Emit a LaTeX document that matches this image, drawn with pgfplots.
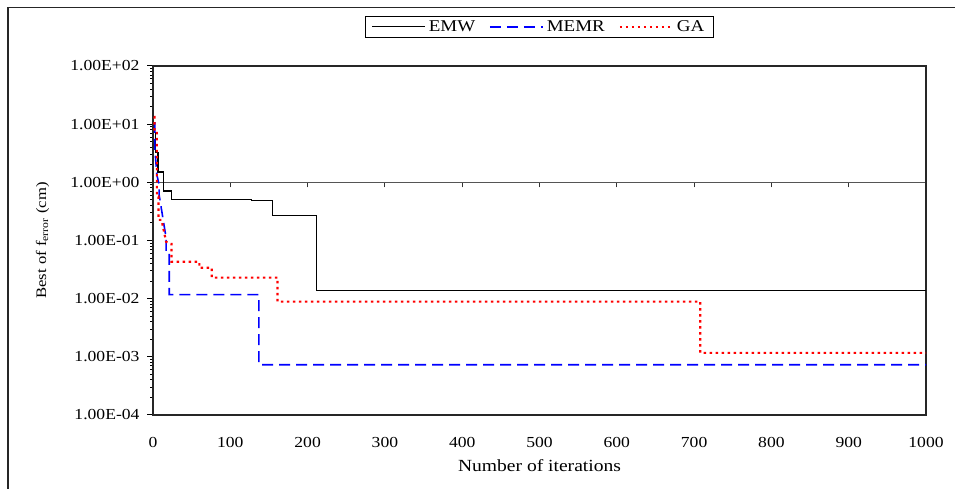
\documentclass[border=0pt]{standalone}
\usepackage{fontspec}
\setmainfont{Liberation Serif}[FakeStretch=1.15]
\usepackage{pgfplots}
\pgfplotsset{compat=1.18}
\definecolor{axgray}{RGB}{85,85,85}
\definecolor{emwblue}{RGB}{0,0,255}
\definecolor{gared}{RGB}{255,0,0}
\begin{document}
\begin{tikzpicture}[x=1bp,y=1bp]
\useasboundingbox (0,0) rectangle (955,489);
\draw[line width=1.3bp, black!85] (8,-5) -- (8,481.5) -- (960,481.5);
% overlay axis: horizontal axis line crossing at 1.00E+00 with its ticks
\begin{axis}[
  at={(153bp,74bp)}, anchor=south west,
  scale only axis, width=773bp, height=349bp,
  xmin=0, xmax=1000, ymin=-4, ymax=2,
  axis x line=middle, axis y line=none,
  x axis line style={-, draw=axgray, line width=1.6bp},
  xtick={100,200,300,400,500,600,700,800,900,1000},
  xticklabels={}, ytick=\empty,
  tick align=center, major tick length=5bp,
  xtick style={draw=black!80, line width=1.1bp, yshift=-2.5bp},
]
\end{axis}
\begin{axis}[
  at={(153bp,74bp)}, anchor=south west,
  scale only axis, width=773bp, height=349bp,
  xmin=0, xmax=1000, ymode=log, ymin=1e-4, ymax=1e2,
  xtick={0,100,200,300,400,500,600,700,800,900,1000},
  xticklabels={0,100,200,300,400,500,600,700,800,900,1000},
  xtick style={draw=none},
  ytick={1e-4,1e-3,1e-2,1e-1,1,10,100},
  yticklabels={1.00E-04,1.00E-03,1.00E-02,1.00E-01,1.00E+00,1.00E+01,1.00E+02},
  minor ytick={}, ytick pos=left,
  tick align=outside, major tick length=6bp,
  ytick style={black, line width=1bp},
  axis line style={black!85, line width=1.1bp},
  tick label style={font=\fontsize{15.3bp}{18bp}\selectfont},
  x tick label style={yshift=-13bp},
  y tick label style={xshift=-4bp},
  xlabel={Number of iterations},
  xlabel style={at={(axis description cs:0.5,-0.1633)}, anchor=base, font=\fontsize{17bp}{20bp}\selectfont},
  ylabel={Best of f\textsubscript{error} (cm)},
  ylabel style={at={(axis description cs:-0.1384,0.5)}, anchor=base, font=\fontsize{14.5bp}{17bp}\selectfont},
  legend columns=3,
  legend style={at={(0.5,1)}, anchor=south, yshift=28bp, draw=black, line width=1bp,
    inner xsep=6bp, inner ysep=2.5bp,
    font=\fontsize{16.5bp}{19bp}\selectfont,
    nodes={inner ysep=2bp, inner xsep=3bp},
    /tikz/every even column/.append style={column sep=11bp}},
  legend cell align=left,
  legend image code/.code={\draw[#1] (0bp,0bp) -- (53bp,0bp);},
]
\addplot[black, line width=1.2bp] coordinates {
(1,7.3) (3,7.3) (3,3.3) (6.5,3.3) (6.5,1.5) (14,1.5) (14,0.71) (24,0.71) (24,0.51)
(127,0.51) (127,0.485) (155,0.485) (155,0.265) (212,0.265) (212,0.0136) (1000,0.0136)};
\addlegendentry{EMW}
\addplot[emwblue, line width=1.6bp, dash pattern=on 11bp off 6bp] coordinates {
(1,10.5) (2.5,10.5) (2.5,3.6) (5,1.34) (8,0.9) (8,0.6) (17,0.11) (17,0.066) (21,0.066)
(21,0.0117) (137,0.0117) (137,0.00073) (1000,0.00073)};
\addlegendentry{MEMR}
\addplot[gared, line width=2.2bp, dash pattern=on 2.5bp off 3.5bp] coordinates {
(1,13.3) (2,13.3) (2,7.4) (5,7.4) (5,0.57) (7,0.57) (7,0.226) (11,0.226) (13,0.17)
(17,0.095) (22,0.0875) (24,0.0875) (24,0.043) (60,0.043) (60,0.034) (76,0.034)
(76,0.023) (161,0.023) (161,0.0089) (708,0.0089) (708,0.00117) (1000,0.00117)};
\addlegendentry{GA}
\end{axis}
\end{tikzpicture}
\end{document}
